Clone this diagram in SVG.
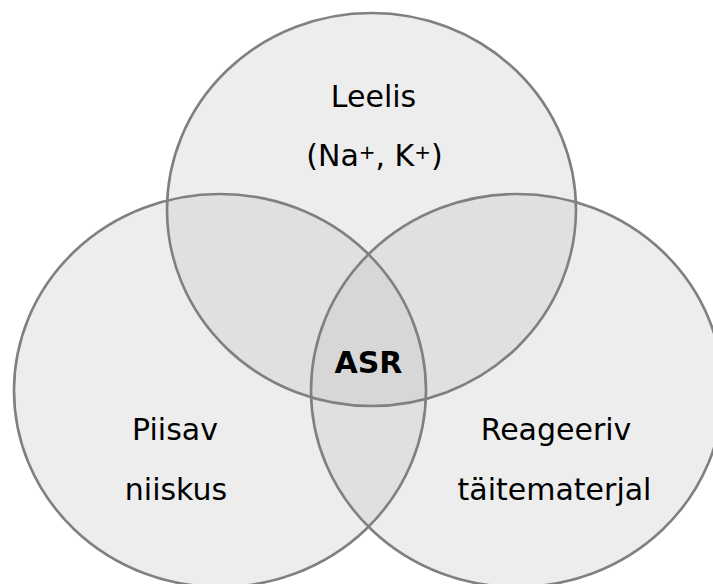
<svg xmlns="http://www.w3.org/2000/svg" width="713" height="584" viewBox="0 0 713 584">
<style>
.fill{fill:#c3c3c3;fill-opacity:0.3;stroke:none}
.edge{fill:none;stroke:#808080;stroke-width:2.6}
.lbl{font-family:"DejaVu Sans",Verdana,sans-serif;font-size:30px;fill:#000;text-anchor:middle}
.sup{font-size:20px}
.bold{font-weight:bold}
</style>
<rect width="713" height="584" fill="#ffffff"/>
<g id="fills">
<ellipse class="fill" cx="371.5" cy="209.5" rx="204.5" ry="196.5"/>
<ellipse class="fill" cx="220" cy="390.5" rx="206" ry="196.5"/>
<ellipse class="fill" cx="517" cy="390.5" rx="206" ry="196.5"/>
</g>
<g id="leelis">
<ellipse class="edge" cx="371.5" cy="209.5" rx="204.5" ry="196.5"/>
<text class="lbl" x="373.5" y="107">Leelis</text>
<text class="lbl" x="374.5" y="166">(Na<tspan class="sup" dy="-7">+</tspan><tspan dy="7">, K</tspan><tspan class="sup" dy="-7">+</tspan><tspan dy="7">)</tspan></text>
</g>
<g id="niiskus">
<ellipse class="edge" cx="220" cy="390.5" rx="206" ry="196.5"/>
<text class="lbl" x="175" y="440">Piisav</text>
<text class="lbl" x="176" y="500">niiskus</text>
</g>
<g id="taitematerjal">
<ellipse class="edge" cx="517" cy="390.5" rx="206" ry="196.5"/>
<text class="lbl" x="556" y="440">Reageeriv</text>
<text class="lbl" x="554.5" y="500">täitematerjal</text>
</g>
<g id="asr">
<text class="lbl bold" x="368.5" y="373">ASR</text>
</g>
<g id="connectors"></g>
</svg>
